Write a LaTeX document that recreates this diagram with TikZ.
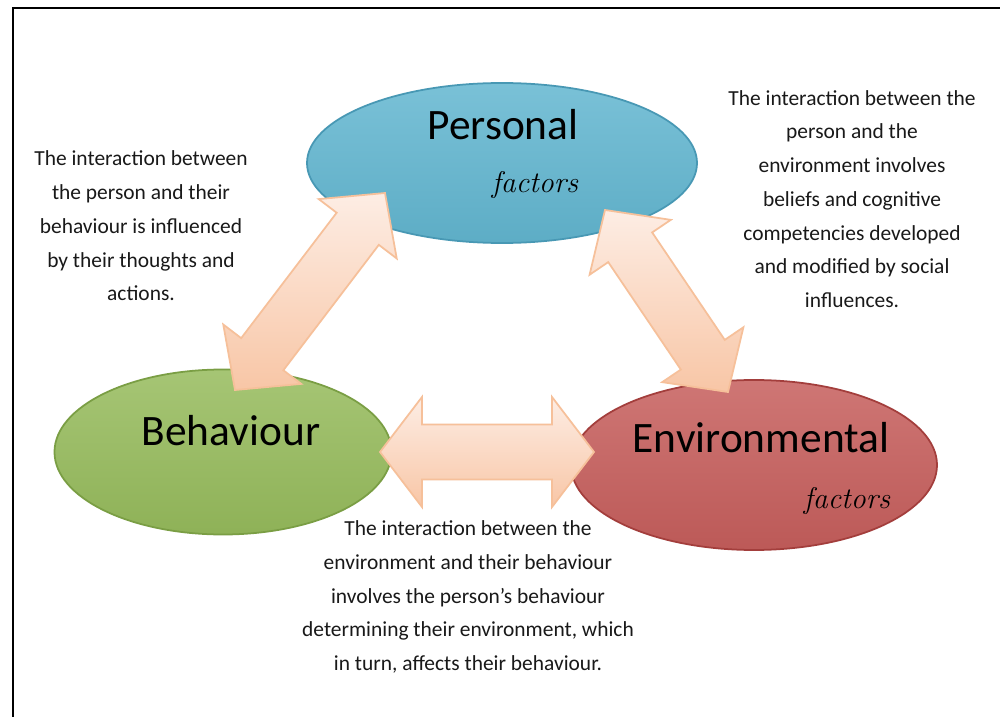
\documentclass[tikz,border=0pt]{standalone}
\usepackage{fontspec}
\newfontfamily\calib{Carlito}
\usetikzlibrary{calc,shapes.geometric}
\definecolor{pfill}{HTML}{62B6D0}
\definecolor{pdraw}{HTML}{4898B4}
\definecolor{bfill}{HTML}{96BB5C}
\definecolor{bdraw}{HTML}{7A9E44}
\definecolor{efill}{HTML}{C65E5C}
\definecolor{edraw}{HTML}{A33E3C}
\definecolor{arrtop}{HTML}{FDEDE4}
\definecolor{arrbot}{HTML}{F8C6A6}
\definecolor{arrline}{HTML}{F6C09A}
\newcommand\dblarrow[6]{%
  \path[#1] (#2) -- ($(#2)!#4!(#3)!#5!90:(#3)$) -- ($(#2)!#4!(#3)!#6!90:(#3)$)
   -- ($(#3)!#4!(#2)!#6!-90:(#2)$) -- ($(#3)!#4!(#2)!#5!-90:(#2)$) -- (#3)
   -- ($(#3)!#4!(#2)!#5!90:(#2)$) -- ($(#3)!#4!(#2)!#6!90:(#2)$)
   -- ($(#2)!#4!(#3)!#6!-90:(#3)$) -- ($(#2)!#4!(#3)!#5!-90:(#3)$) -- cycle;}
\tikzset{
  oval/.style={ellipse, inner sep=0pt, line width=1pt},
  bigtxt/.style={font=\calib\fontsize{24.7}{28}\selectfont, anchor=base, inner sep=0pt},
  facttxt/.style={font=\itshape\fontsize{17}{20}\selectfont, anchor=base, inner sep=0pt},
  desc/.style={font=\calib\fontsize{12.2}{19.2}\selectfont, align=center, inner sep=0pt, text=black!90},
  fatarr/.style={top color=arrtop, bottom color=arrbot, draw=arrline, line width=1pt, line join=miter},
}
\begin{document}
\begin{tikzpicture}[x=0.2mm,y=-0.2mm]
\useasboundingbox (0,0) rectangle (1000,717);
\fill[white] (0,0) rectangle (1000,717);
\draw[line width=1.7pt] (13,720) -- (13,8) -- (1003,8);

% ellipses
\node[oval, minimum width=78mm, minimum height=32mm, top color=pfill!85!white, bottom color=pfill!95!black, draw=pdraw] (P) at (502,163) {};
\node[oval, minimum width=67.4mm, minimum height=33mm, top color=bfill!85!white, bottom color=bfill!95!black, draw=bdraw] (B) at (223,452) {};
\node[oval, minimum width=73.2mm, minimum height=34mm, top color=efill!85!white, bottom color=efill!95!black, draw=edraw] (E) at (754,465) {};

% arrow tips
\coordinate (pb1) at (385,193);
\coordinate (pb2) at (235,390);
\coordinate (pe1) at (605,210);
\coordinate (pe2) at (728,392);
\coordinate (be1) at (380,452);
\coordinate (be2) at (594,452);

\dblarrow{fatarr}{pb1}{pb2}{9mm}{9.8mm}{5.3mm}
\dblarrow{fatarr}{pe1}{pe2}{9mm}{9.8mm}{5.3mm}
\dblarrow{fatarr}{be1}{be2}{8.4mm}{11mm}{5.5mm}

% labels
\node[bigtxt] (Pt) at (503,140) {Personal};
\node[facttxt] (Pf) at (535,193) {factors};
\node[bigtxt] (Bt) at (231,445) {Behaviour};
\node[bigtxt] (Et) at (761,452) {Environmental};
\node[facttxt] (Ef) at (847,508) {factors};

\node[desc] (d1) at (141,226) {The interaction between\\the person and their\\behaviour is influenced\\by their thoughts and\\actions.};
\node[desc] (d2) at (852,199) {The interaction between the\\person and the\\environment involves\\beliefs and cognitive\\competencies developed\\and modified by social\\influences.};
\node[desc] (d3) at (468,597) {The interaction between the\\environment and their behaviour\\involves the person’s behaviour\\determining their environment, which\\in turn, affects their behaviour.};
\end{tikzpicture}
\end{document}
